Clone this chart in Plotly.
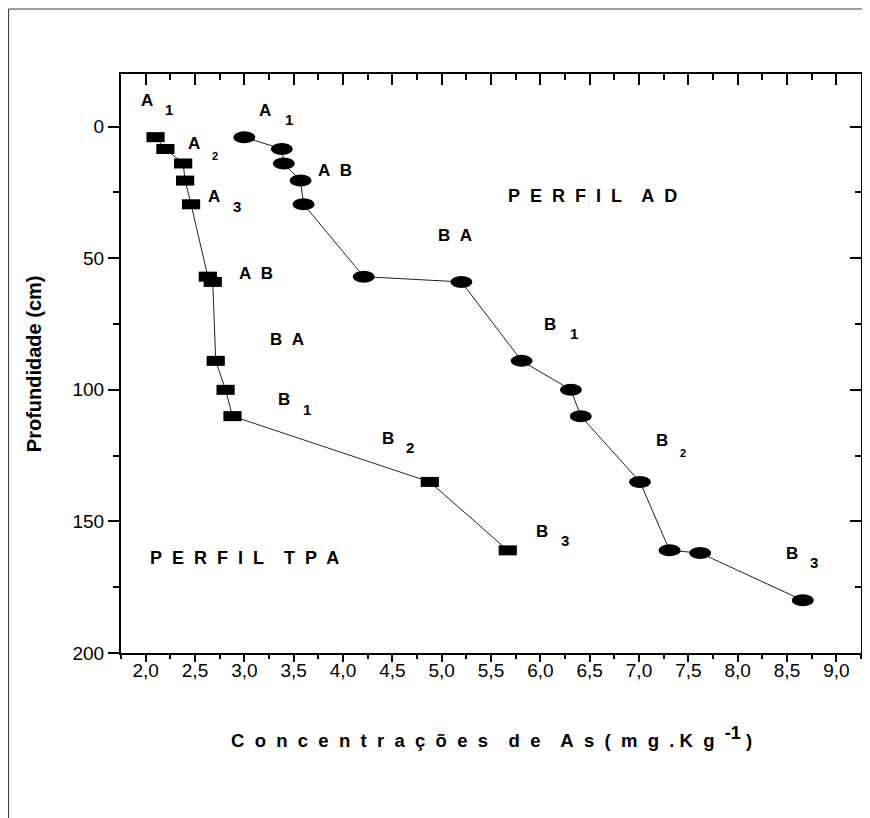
import plotly.graph_objects as go

# ---------------- data ----------------
tpa_x = [2.10, 2.20, 2.38, 2.40, 2.46, 2.63, 2.68, 2.71, 2.81, 2.88, 4.88, 5.67]
tpa_y = [4.0, 8.5, 14.0, 20.5, 29.5, 57.0, 59.0, 89.0, 100.0, 110.0, 135.0, 161.0]

ad_x = [3.00, 3.38, 3.40, 3.57, 3.60, 4.21, 5.20, 5.81, 6.31, 6.41, 7.01, 7.31, 7.62, 8.66]
ad_y = [4.0, 8.5, 14.0, 20.5, 29.5, 57.0, 59.0, 89.0, 100.0, 110.0, 135.0, 161.0, 162.0, 180.0]

x_tickvals = [2.0, 2.5, 3.0, 3.5, 4.0, 4.5, 5.0, 5.5, 6.0, 6.5, 7.0, 7.5, 8.0, 8.5, 9.0]
x_ticktext = ["2,0", "2,5", "3,0", "3,5", "4,0", "4,5", "5,0", "5,5", "6,0", "6,5",
              "7,0", "7,5", "8,0", "8,5", "9,0"]
y_tickvals = [0, 50, 100, 150, 200]
y_ticktext = ["0", "50", "100", "150", "200"]

# horizon labels: (main text, x, y)
main_labels = [
    ("A", 2.014, -10.1), ("A", 2.494, 6.3), ("A", 2.689, 26.6), ("A&nbsp;&nbsp;B", 3.117, 55.7),
    ("B&nbsp;&nbsp;A", 3.433, 81.0), ("B", 3.406, 103.8), ("B", 4.453, 118.6), ("B", 6.017, 153.9),
    ("A", 3.213, -6.0), ("A&nbsp;&nbsp;B", 3.923, 16.5), ("B&nbsp;&nbsp;A", 5.137, 41.2),
    ("B", 6.102, 75.0), ("B", 7.234, 119.3), ("B", 8.551, 162.1),
]
# subscripts: (text, x, y, small?)
sub_labels = [
    ("1", 2.240, -6.6, False), ("2", 2.706, 11.1, True), ("3", 2.926, 30.4, False),
    ("1", 3.636, 107.3, False), ("2", 4.683, 121.8, False), ("3", 6.254, 157.3, False),
    ("1", 3.449, -2.8, False), ("1", 6.338, 78.5, False), ("2", 7.447, 123.9, True),
    ("3", 8.777, 165.5, False),
]
profile_titles = [
    ("P&nbsp; E&nbsp; R&nbsp; F&nbsp; I&nbsp; L&nbsp;&nbsp;&nbsp; T&nbsp; P&nbsp; A", 3.002, 164.0),
    ("P&nbsp; E&nbsp; R&nbsp; F&nbsp; I&nbsp; L&nbsp;&nbsp;&nbsp; A&nbsp; D", 6.532, 26.4),
]

# ---------------- figure ----------------
FONT = "Liberation Sans, Arial, sans-serif"

fig = go.Figure()

fig.add_trace(go.Scatter(
    x=tpa_x, y=tpa_y, mode="lines+markers", name="Perfil TPA",
    line=dict(color="#222222", width=1),
    marker=dict(symbol="line-ew", size=13, color="black",
                line=dict(color="black", width=10)),
    hoverinfo="x+y",
))
fig.add_trace(go.Scatter(
    x=ad_x, y=ad_y, mode="lines", name="Perfil AD",
    line=dict(color="#222222", width=1),
    hoverinfo="x+y",
))
# empty trace to activate the mirrored axes
fig.add_trace(go.Scatter(x=[], y=[], xaxis="x2", yaxis="y2", showlegend=False))

shapes = []
for xv, yv in zip(ad_x, ad_y):
    shapes.append(dict(type="circle", xref="x", yref="y",
                       xsizemode="pixel", ysizemode="pixel",
                       xanchor=xv, yanchor=yv, x0=-11, x1=11, y0=-6, y1=6,
                       fillcolor="black", line=dict(width=0)))
# outer frame
shapes.append(dict(type="line", xref="paper", yref="paper",
                   x0=-0.1520, x1=-0.1520, y0=-0.30, y1=1.1123,
                   line=dict(color="#444444", width=1.2)))
shapes.append(dict(type="line", xref="paper", yref="paper",
                   x0=-0.1520, x1=1.02, y0=1.1123, y1=1.1123,
                   line=dict(color="#444444", width=1.2)))

annotations = []
for t, xv, yv in main_labels:
    annotations.append(dict(text="<b>%s</b>" % t, x=xv, y=yv, xref="x", yref="y",
                            showarrow=False, xanchor="center", yanchor="middle",
                            font=dict(family=FONT, size=17, color="black")))
for t, xv, yv, small in sub_labels:
    annotations.append(dict(text="<b>%s</b>" % t, x=xv, y=yv, xref="x", yref="y",
                            showarrow=False, xanchor="center", yanchor="middle",
                            font=dict(family=FONT, size=11 if small else 15, color="black")))
for t, xv, yv in profile_titles:
    annotations.append(dict(text="<b>%s</b>" % t, x=xv, y=yv, xref="x", yref="y",
                            showarrow=False, xanchor="center", yanchor="middle",
                            font=dict(family=FONT, size=18, color="black")))

# axis titles
annotations.append(dict(
    text="<b>Profundidade (cm)</b>", textangle=-90, xref="paper", yref="paper",
    x=-0.118, y=0.5, xanchor="center", yanchor="middle", showarrow=False,
    font=dict(family=FONT, size=20, color="black")))
annotations.append(dict(
    text="<b>C&nbsp; o&nbsp; n&nbsp; c&nbsp; e&nbsp; n&nbsp; t&nbsp; r&nbsp; a&nbsp; ç&nbsp; õ&nbsp; e&nbsp; s&nbsp;&nbsp;&nbsp;"
         " d&nbsp; e&nbsp;&nbsp;&nbsp; A&nbsp; s&nbsp; (&nbsp; m&nbsp; g&nbsp; .&nbsp;K&nbsp; g&nbsp;&nbsp;"
         "<sup><span style='font-size:18px'>-1</span></sup>&nbsp;)</b>",
    xref="paper", yref="paper", x=0.5, y=-0.145, xanchor="center", yanchor="middle",
    showarrow=False, font=dict(family=FONT, size=18.5, color="black")))

xrange = [1.75, 9.25]
yrange = [200, -20]

# the page body adds an 8px margin, so the figure is 8px smaller and margins shifted
fig.update_layout(
    width=862, height=810,
    margin=dict(l=113, r=9, t=66, b=165),
    paper_bgcolor="white", plot_bgcolor="white",
    showlegend=False,
    shapes=shapes, annotations=annotations,
    xaxis=dict(range=xrange, tickmode="array", tickvals=x_tickvals, ticktext=x_ticktext,
               ticks="outside", ticklen=7, tickwidth=2, tickcolor="black",
               showline=True, linewidth=2, linecolor="black",
               showgrid=False, zeroline=False, ticklabelstandoff=-8,
               tickfont=dict(family=FONT, size=19, color="black"),
               minor=dict(tick0=2.0, dtick=0.25, ticks="outside", ticklen=4,
                          tickwidth=2, tickcolor="black", showgrid=False)),
    yaxis=dict(range=yrange, tickmode="array", tickvals=y_tickvals, ticktext=y_ticktext,
               ticks="outside", ticklen=11, tickwidth=2, tickcolor="black",
               showline=True, linewidth=2, linecolor="black",
               showgrid=False, zeroline=False,
               tickfont=dict(family=FONT, size=19, color="black"),
               minor=dict(tick0=0, dtick=25, ticks="outside", ticklen=6,
                          tickwidth=2, tickcolor="black", showgrid=False)),
    xaxis2=dict(range=xrange, overlaying="x", side="top", anchor="y2",
                tickmode="array", tickvals=x_tickvals, showticklabels=False,
                ticks="inside", ticklen=11, tickwidth=2, tickcolor="black",
                showline=True, linewidth=2, linecolor="black",
                showgrid=False, zeroline=False,
                minor=dict(tick0=2.0, dtick=0.25, ticks="inside", ticklen=6,
                           tickwidth=2, tickcolor="black", showgrid=False)),
    yaxis2=dict(range=yrange, overlaying="y", side="right", anchor="x2",
                tickmode="array", tickvals=y_tickvals, showticklabels=False,
                ticks="inside", ticklen=11, tickwidth=2, tickcolor="black",
                showline=True, linewidth=2, linecolor="black",
                showgrid=False, zeroline=False,
                minor=dict(tick0=0, dtick=25, ticks="inside", ticklen=6,
                           tickwidth=2, tickcolor="black", showgrid=False)),
)

fig.write_html("out.html")
